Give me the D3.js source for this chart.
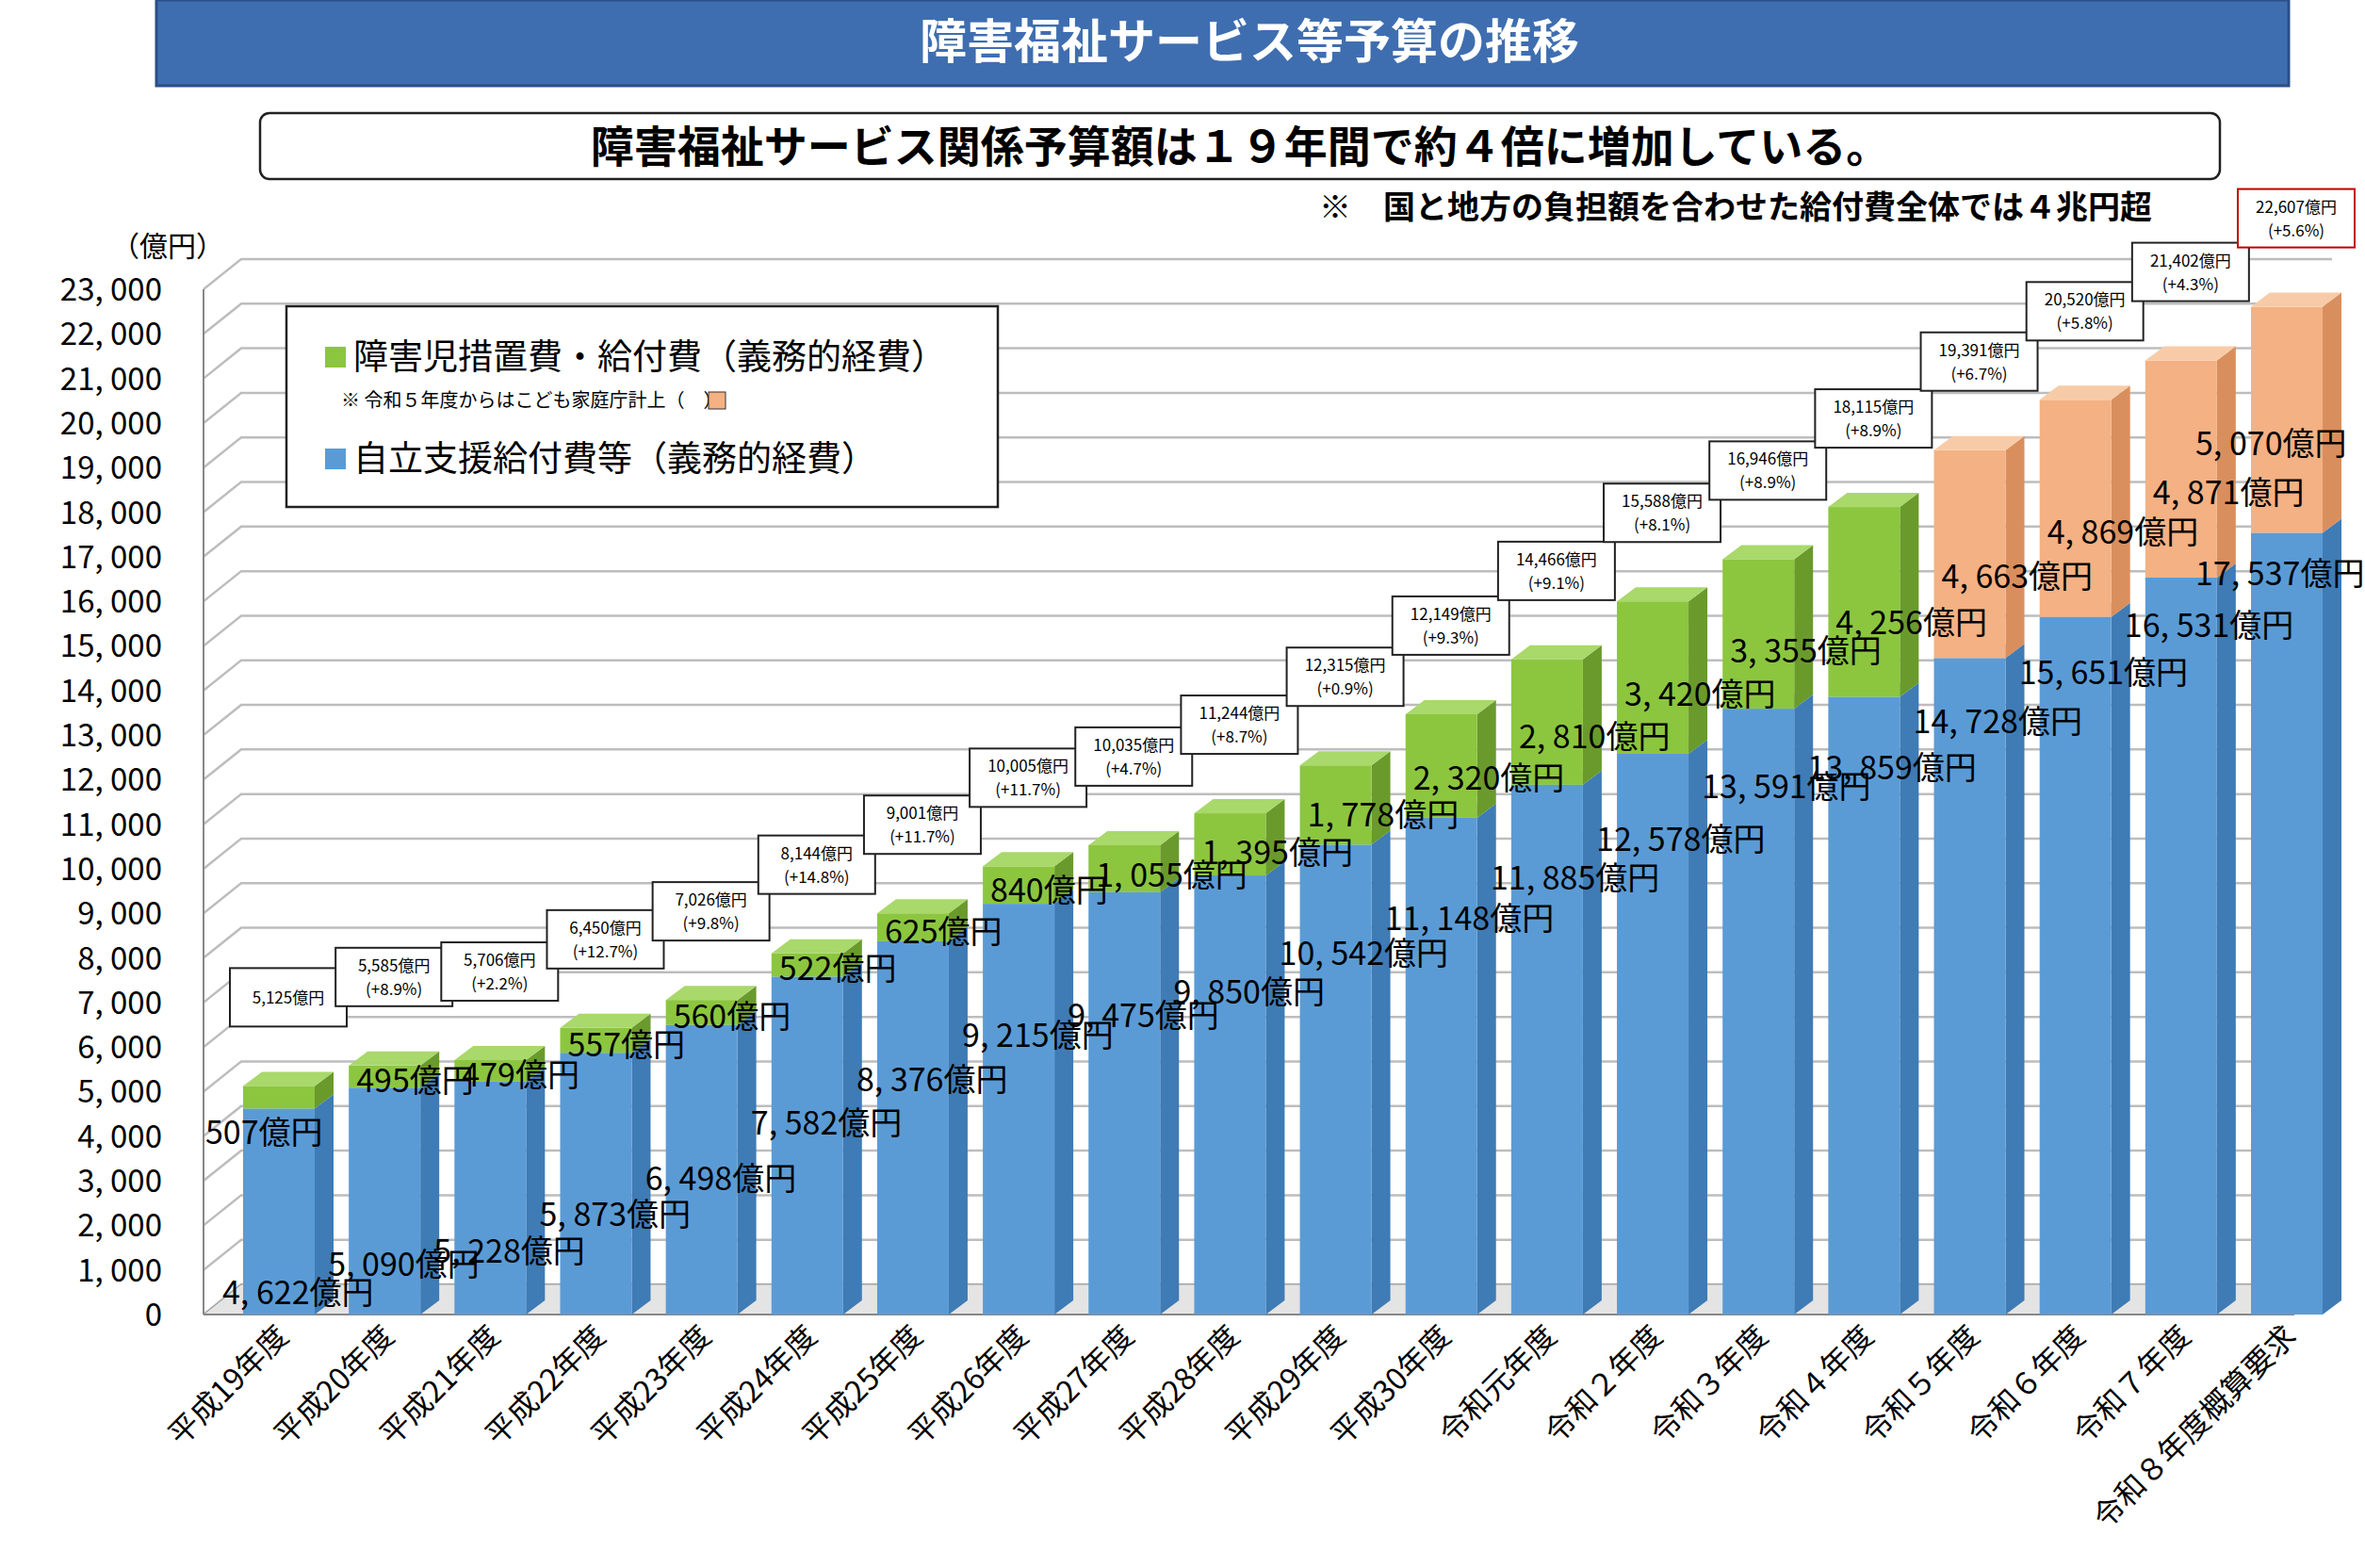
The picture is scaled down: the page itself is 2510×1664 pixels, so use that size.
<!DOCTYPE html>
<html><head><meta charset="utf-8">
<script src="https://cdn.jsdelivr.net/npm/d3@7"></script>
<style>body{margin:0;background:#fff}text{font-family:"Noto Sans CJK JP","Noto Sans",sans-serif}</style>
</head><body><div class="canva"></div>
<script>
// daten
const years = ['平成19年度','平成20年度','平成21年度','平成22年度','平成23年度','平成24年度','平成25年度','平成26年度','平成27年度','平成28年度','平成29年度','平成30年度','令和元年度','令和２年度','令和３年度','令和４年度','令和５年度','令和６年度','令和７年度','令和８年度概算要求'];
const blue = [4622,5090,5228,5873,6498,7582,8376,9215,9475,9850,10542,11148,11885,12578,13591,13859,14728,15651,16531,17537];
const green = [507,495,479,557,560,522,625,840,1055,1395,1778,2320,2810,3420,3355,4256,0,0,0,0];
const orange = [0,0,0,0,0,0,0,0,0,0,0,0,0,0,0,0,4663,4869,4871,5070];
const totals = ['5,125億円','5,585億円','5,706億円','6,450億円','7,026億円','8,144億円','9,001億円','10,005億円','10,035億円','11,244億円','12,315億円','12,149億円','14,466億円','15,588億円','16,946億円','18,115億円','19,391億円','20,520億円','21,402億円','22,607億円'];
const changes = ['','(+8.9%)','(+2.2%)','(+12.7%)','(+9.8%)','(+14.8%)','(+11.7%)','(+11.7%)','(+4.7%)','(+8.7%)','(+0.9%)','(+9.3%)','(+9.1%)','(+8.1%)','(+8.9%)','(+8.9%)','(+6.7%)','(+5.8%)','(+4.3%)','(+5.6%)'];
const yTicks = d3.range(0, 23001, 1000);

const W = 2510, H = 1664;
const svg = d3.select('.canva').append('svg').attr('width', W).attr('height', H);
const y = d3.scaleLinear().domain([0, 23000]).range([1395, 307]);
const x = d3.scalePoint().domain(years).range([296, 2427]);
const bw = 76, dx = 20, dy = 15; // balken breite, tiefe
const fmt = d3.format(',');
const lab = v => fmt(v).replace(',', ', ') + '億円';

// titel
svg.append('rect').attr('x',166).attr('y',0).attr('width',2263).attr('height',91).attr('fill','#3f6eb0').attr('stroke','#2b4f86').attr('stroke-width',3);
svg.append('text').attr('x',1326).attr('y',62).attr('text-anchor','middle').attr('fill','#fff').attr('font-size',50).attr('font-weight','bold').text('障害福祉サービス等予算の推移');
svg.append('rect').attr('x',276).attr('y',120).attr('width',2080).attr('height',70).attr('rx',10).attr('fill','#fff').attr('stroke','#222').attr('stroke-width',2.5);
svg.append('text').attr('x',1316).attr('y',172).attr('text-anchor','middle').attr('font-size',46).attr('font-weight','bold').text('障害福祉サービス関係予算額は１９年間で約４倍に増加している。');
svg.append('text').attr('x',2284).attr('y',232).attr('text-anchor','end').attr('font-size',34).attr('font-weight','bold').text('※　国と地方の負担額を合わせた給付費全体では４兆円超');

// gitter (3d wand)
const gx0 = 216, gx1 = 256, gx2 = 2475;
yTicks.forEach(t => {
  svg.append('polyline').attr('points', `${gx0},${y(t)} ${gx1},${y(t)-32} ${gx2},${y(t)-32}`)
    .attr('fill','none').attr('stroke', '#bdbdbd').attr('stroke-width',2.5);
});
svg.append('polygon').attr('points', `${gx0},${y(0)} ${gx1},${y(0)-32} ${gx2},${y(0)-32} ${gx2-40},${y(0)}`).attr('fill','#e4e4e4').attr('stroke','#999');
svg.append('line').attr('x1',gx0).attr('x2',gx0).attr('y1',y(0)).attr('y2',y(23000)).attr('stroke','#888').attr('stroke-width',2);
svg.append('line').attr('x1',gx0).attr('x2',gx2-40).attr('y1',y(0)).attr('y2',y(0)).attr('stroke','#888').attr('stroke-width',2);
svg.selectAll('text.yt').data(yTicks).enter().append('text').attr('class','yt')
  .attr('x',172).attr('y',d=>y(d)+12).attr('text-anchor','end').attr('font-size',33).text(d=>fmt(d).replace(',', ', '));
svg.append('text').attr('x',118).attr('y',272).attr('font-size',30).text('（億円）');

// balken
const cols = {b:['#5b9bd5','#3f7bb5','#8dbbe6'], g:['#8cc63f','#6a9a2c','#a9d86b'], o:['#f4b183','#d98f5d','#f8cba8']};
function box(cx, v0, v1, c){
  const x0 = cx - bw/2, y0 = y(v0), y1 = y(v1);
  const g = svg.append('g');
  g.append('polygon').attr('points', `${x0+bw},${y0} ${x0+bw+dx},${y0-dy} ${x0+bw+dx},${y1-dy} ${x0+bw},${y1}`).attr('fill', c[1]);
  g.append('rect').attr('x',x0).attr('y',y1).attr('width',bw).attr('height',y0-y1).attr('fill',c[0]);
  g.append('polygon').attr('points', `${x0},${y1} ${x0+dx},${y1-dy} ${x0+bw+dx},${y1-dy} ${x0+bw},${y1}`).attr('fill',c[2]);
}
years.forEach((yr, i) => {
  const cx = x(yr);
  box(cx, 0, blue[i], cols.b);
  if (green[i]) box(cx, blue[i], blue[i]+green[i], cols.g);
  if (orange[i]) box(cx, blue[i], blue[i]+orange[i], cols.o);
});

// beschriftung
years.forEach((yr, i) => {
  const cx = x(yr);
  const top = blue[i] + green[i] + orange[i];
  const bx = Math.min(cx - 60, 2505 - 175);
  svg.append('text').attr('x', bx).attr('y', y(blue[i] - (4100 - i*170)) + 14)
    .attr('font-size',34).text(lab(blue[i]));
  const ext = green[i] || orange[i];
  const ex = i === 0 ? cx - 78 : Math.min(cx - 30, 2505 - 175);
  svg.append('text').attr('x', ex).attr('y', y(blue[i] + ext*0.4 - (i===0?700:0)) + 14)
    .attr('font-size',34).text(lab(ext));
  // summen kasten
  const by = y(top) - dy - 40 - 70;
  svg.append('rect').attr('x', cx - 52).attr('y', by).attr('width', 124).attr('height', 62)
    .attr('fill','#fff').attr('stroke', i === 19 ? '#c00000' : '#222').attr('stroke-width',2);
  svg.append('text').attr('x', cx + 10).attr('y', by + (changes[i] ? 25 : 38)).attr('text-anchor','middle').attr('font-size',17).text(totals[i]);
  if (changes[i]) svg.append('text').attr('x', cx + 10).attr('y', by + 50).attr('text-anchor','middle').attr('font-size',17).text(changes[i]);
  // x achse
  svg.append('text').attr('transform', `translate(${cx+12},${1420}) rotate(-45)`).attr('text-anchor','end').attr('font-size',32).text(yr);
});

// legende
svg.append('rect').attr('x',304).attr('y',325).attr('width',755).attr('height',213).attr('fill','#fff').attr('stroke','#222').attr('stroke-width',2.5);
svg.append('rect').attr('x',345).attr('y',368).attr('width',22).attr('height',22).attr('fill',cols.g[0]);
svg.append('text').attr('x',375).attr('y',392).attr('font-size',37).text('障害児措置費・給付費（義務的経費）');
svg.append('text').attr('x',362).attr('y',432).attr('font-size',20).text('※ 令和５年度からはこども家庭庁計上（　）');
svg.append('rect').attr('x',752).attr('y',416).attr('width',18).attr('height',18).attr('fill',cols.o[0]).attr('stroke','#333');
svg.append('rect').attr('x',345).attr('y',476).attr('width',22).attr('height',22).attr('fill',cols.b[0]);
svg.append('text').attr('x',375).attr('y',500).attr('font-size',37).text('自立支援給付費等（義務的経費）');
</script></body></html>
